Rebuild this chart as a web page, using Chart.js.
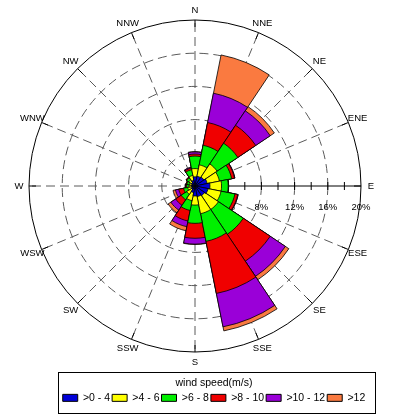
<!DOCTYPE html>
<html>
<head>
<meta charset="utf-8">
<script src="https://cdn.jsdelivr.net/npm/chart.js@4/dist/chart.umd.min.js"></script>
<style>
  html, body { margin: 0; padding: 0; background: #fff; }
  #wrap { width: 394px; height: 416px; position: relative; }
</style>
</head>
<body>
<div id="wrap"><canvas id="c"></canvas></div>
<script>
// ---- data (percent of time, per direction, per speed class) ----
const directions = ['N','NNE','NE','ENE','E','ESE','SE','SSE','S','SSW','SW','WSW','W','WNW','NW','NNW'];
const speedClasses = ['>0 - 4', '>4 - 6', '>6 - 8', '>8 - 10', '>10 - 12', '>12'];
const freq0to4   = [1.1, 1.2, 1.3, 1.5, 1.8, 1.6, 1.4, 1.3, 1.2, 0.8, 0.5, 0.4, 0.4, 0.4, 0.5, 0.7];
const freq4to6   = [1.0, 1.4, 1.9, 1.5, 1.4, 1.6, 2.0, 2.1, 1.1, 1.0, 0.7, 0.5, 0.3, 0.3, 0.4, 0.6];
const freq6to8   = [1.5, 2.4, 3.0, 1.5, 0.8, 1.7, 3.6, 3.4, 2.2, 1.2, 0.8, 0.5, 0.3, 0.3, 0.3, 0.7];
const freq8to10  = [0.25, 2.8, 2.6, 0.35, 0.05, 0.35, 3.9, 6.4, 1.8, 1.3, 0.8, 0.6, 0.1, 0.1, 0.1, 0.2];
const freq10to12 = [0.25, 3.6, 2.1, 0.05, 0.0, 0.05, 2.2, 4.1, 0.7, 0.7, 0.7, 0.4, 0.05, 0.0, 0.0, 0.1];
const freqOver12 = [0.05, 4.7, 0.6, 0.0, 0.0, 0.0, 0.5, 0.5, 0.05, 0.5, 0.4, 0.3, 0.05, 0.0, 0.0, 0.0];
const tickValues = [4, 8, 12, 16, 20];
const tickLabels = ['4%', '8%', '12%', '16%', '20%'];

// ---- styles ----
const classColors = ['#0000D8', '#FFFF00', '#00F000', '#F00000', '#9A00D8', '#FA7A40'];
const GRID = '#5a5a5a';
const DASH = [9, 5];
const FONT = "'Liberation Sans', Arial, Helvetica, sans-serif";
const LEGEND_SHIFT = 19;

// stacked (cumulative) radii for each class
const classSeries = [freq0to4, freq4to6, freq6to8, freq8to10, freq10to12, freqOver12];
const datasets = classSeries.map((series, k) => ({
  label: speedClasses[k],
  data: directions.map((d, j) => {
    let s = 0;
    for (let m = 0; m <= k; m++) s += classSeries[m][j];
    return +s.toFixed(3);
  }),
  backgroundColor: classColors[k],
  borderColor: '#000',
  borderWidth: 0.8
}));

Chart.defaults.font.family = FONT;
Chart.defaults.color = '#000';

const roseFrame = {
  id: 'roseFrame',
  afterLayout(chart) {
    const lg = chart.legend;
    if (lg) { lg.left += LEGEND_SHIFT; lg.right += LEGEND_SHIFT; }
  },
  beforeDatasetsDraw(chart) {
    const s = chart.scales.r;
    const ctx = chart.ctx;
    const R = s.drawingArea, cx = s.xCenter, cy = s.yCenter;
    const half = Math.PI / directions.length;
    ctx.save();
    // dashed direction lines
    ctx.lineWidth = 1;
    ctx.strokeStyle = GRID;
    ctx.setLineDash(DASH);
    directions.forEach((d, i) => {
      if (d === 'E') return;
      const p = s.getPointPosition(i, R, half);
      ctx.beginPath(); ctx.moveTo(cx, cy); ctx.lineTo(p.x, p.y); ctx.stroke();
    });
    ctx.setLineDash([]);
    ctx.strokeStyle = '#000';
    // outer ticks
    directions.forEach((d, i) => {
      const p1 = s.getPointPosition(i, R, half);
      const p2 = s.getPointPosition(i, R - 7, half);
      ctx.beginPath(); ctx.moveTo(p1.x, p1.y); ctx.lineTo(p2.x, p2.y); ctx.stroke();
    });
    // radial axis along E
    const iE = directions.indexOf('E');
    const pe = s.getPointPosition(iE, R, half);
    ctx.beginPath(); ctx.moveTo(cx, cy); ctx.lineTo(pe.x, pe.y); ctx.stroke();
    for (let v = 2; v < s.max; v += 2) {
      const x = cx + s.getDistanceFromCenterForValue(v);
      ctx.beginPath(); ctx.moveTo(x, cy - 4); ctx.lineTo(x, cy + 4); ctx.stroke();
    }
    ctx.fillStyle = '#000';
    ctx.font = '9.5px ' + FONT;
    ctx.textAlign = 'center';
    ctx.textBaseline = 'middle';
    tickValues.forEach((v, k) => {
      const x = cx + s.getDistanceFromCenterForValue(v);
      ctx.fillText(tickLabels[k], x, cy + 21.5);
    });
    ctx.restore();
  },
  afterDraw(chart) {
    const s = chart.scales.r;
    const ctx = chart.ctx;
    const R = s.drawingArea;
    const half = Math.PI / directions.length;
    ctx.save();
    ctx.fillStyle = '#000';
    ctx.font = '9.5px ' + FONT;
    ctx.textAlign = 'center';
    ctx.textBaseline = 'middle';
    directions.forEach((d, i) => {
      const p = s.getPointPosition(i, R + 10, half);
      ctx.fillText(d, p.x, p.y);
    });
    // legend frame
    const lg = chart.legend;
    if (lg) {
      ctx.strokeStyle = '#000';
      ctx.lineWidth = 1;
      const x0 = Math.round(lg.left + 10) + 0.5;
      const x1 = Math.round(lg.right - 5) + 0.5;
      const y0 = Math.round(lg.top + 11) + 0.5;
      const y1 = Math.round(lg.top + 52) + 0.5;
      ctx.strokeRect(x0, y0, x1 - x0, y1 - y0);
    }
    ctx.restore();
  }
};

new Chart(document.getElementById('c'), {
  type: 'polarArea',
  data: { labels: directions, datasets },
  options: {
    responsive: true,
    maintainAspectRatio: false,
    animation: false,
    events: [],
    layout: { padding: { left: 29, right: 33, top: 11, bottom: 2.9 } },
    scales: {
      r: {
        min: 0,
        max: 20,
        startAngle: -11.25,
        ticks: { display: false, stepSize: 4 },
        angleLines: { display: false },
        pointLabels: { display: false },
        grid: {
          circular: true,
          lineWidth: 1,
          color: (c) => (c.tick && c.tick.value === 20) ? '#000' : GRID
        },
        border: {
          dash: (c) => (c.tick && c.tick.value === 20) ? [] : DASH
        }
      }
    },
    plugins: {
      tooltip: { enabled: false },
      legend: {
        position: 'bottom',
        onClick: null,
        title: {
          display: true,
          text: 'wind speed(m/s)',
          color: '#000',
          font: { size: 10.5, family: FONT },
          padding: { top: 17, bottom: 0 }
        },
        labels: {
          boxWidth: 15,
          boxHeight: 7,
          padding: 2,
          color: '#000',
          font: { size: 10.5, family: FONT },
          generateLabels: (chart) => chart.data.datasets.map((ds, i) => ({
            text: ds.label,
            fillStyle: ds.backgroundColor,
            strokeStyle: '#000',
            lineWidth: 1,
            hidden: false,
            datasetIndex: i
          }))
        }
      }
    }
  },
  plugins: [roseFrame]
});
</script>
</body>
</html>
